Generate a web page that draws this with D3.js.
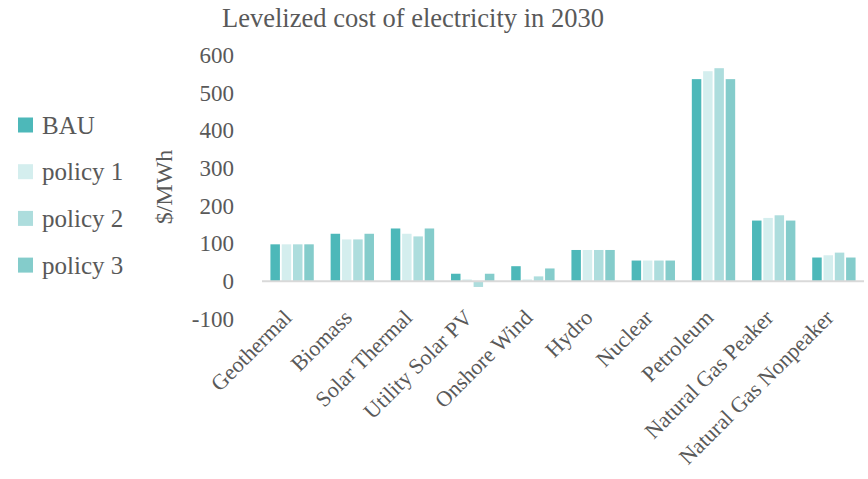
<!DOCTYPE html>
<html>
<head>
<meta charset="utf-8">
<script src="https://cdn.jsdelivr.net/npm/d3@7"></script>
<style>
  html, body { margin: 0; padding: 0; background: #fff; }
  svg { display: block; font-family: "Liberation Serif", "Times New Roman", serif; }
</style>
</head>
<body>
<svg id="chart" width="868" height="479"></svg>
<script>
// Levelized cost of electricity by technology in 2030 ($/MWh), four scenarios
const categories = ["Geothermal", "Biomass", "Solar Thermal", "Utility Solar PV", "Onshore Wind",
  "Hydro", "Nuclear", "Petroleum", "Natural Gas Peaker", "Natural Gas Nonpeaker"];
const seriesNames = ["BAU", "policy 1", "policy 2", "policy 3"];
const bau     = [98, 126, 140, 20, 40, 83, 55, 536, 161, 63];
const policy1 = [98, 111, 126, 5, 5, 83, 55, 557, 168, 69];
const policy2 = [98, 111, 119, -15, 13, 83, 55, 565, 175, 76];
const policy3 = [98, 126, 140, 20, 34, 83, 55, 536, 161, 63];
const yTicks = [-100, 0, 100, 200, 300, 400, 500, 600];
const colors = ["#4DB8B9", "#D4EEEE", "#ADDDDD", "#84CCCB"];

const seriesValues = [bau, policy1, policy2, policy3];
const textColor = "#595959";

const svg = d3.select("#chart");

const x0 = d3.scaleBand()
  .domain(categories)
  .range([262, 864])
  .paddingInner(0.28)
  .paddingOuter(0.14);

const x1 = d3.scaleBand()
  .domain(seriesNames)
  .range([0, x0.bandwidth()])
  .paddingInner(0.16);

const y = d3.scaleLinear().domain([-100, 600]).range([319, 55]);

// Title
svg.append("text")
  .attr("x", 413)
  .attr("y", 27)
  .attr("text-anchor", "middle")
  .attr("fill", textColor)
  .style("font-size", "26.5px")
  .text("Levelized cost of electricity in 2030");

// Y axis tick labels (no axis line, no gridlines)
const yAxis = d3.axisLeft(y).tickValues(yTicks).tickSize(0).tickPadding(0)
  .tickFormat(d => String(d));
const yg = svg.append("g").attr("transform", "translate(234,0)").call(yAxis);
yg.select(".domain").remove();
yg.selectAll("text")
  .attr("fill", textColor)
  .style("font-family", "Liberation Serif, serif")
  .style("font-size", "23px");

// Y axis title
svg.append("text")
  .attr("transform", `translate(172,187) rotate(-90)`)
  .attr("text-anchor", "middle")
  .attr("fill", textColor)
  .style("font-size", "24px")
  .text("$/MWh");

// Bars
const groups = svg.append("g").selectAll("g")
  .data(categories)
  .join("g")
  .attr("transform", d => `translate(${x0(d)},0)`);

groups.selectAll("rect")
  .data((d, i) => seriesNames.map((s, k) => ({ s, v: seriesValues[k][i], k })))
  .join("rect")
  .attr("x", d => x1(d.s))
  .attr("width", x1.bandwidth())
  .attr("y", d => y(Math.max(0, d.v)))
  .attr("height", d => Math.abs(y(d.v) - y(0)))
  .attr("fill", d => colors[d.k]);

// Zero line
svg.append("line")
  .attr("x1", 262).attr("x2", 864)
  .attr("y1", y(0)).attr("y2", y(0))
  .attr("stroke", "#D9D9D9")
  .attr("stroke-width", 2);

// Category labels rotated -45°
svg.append("g").selectAll("text")
  .data(categories)
  .join("text")
  .attr("transform", d => `translate(${x0(d) + x0.bandwidth() / 2 + 1},319) rotate(-45)`)
  .attr("text-anchor", "end")
  .attr("fill", textColor)
  .style("font-size", "22px")
  .text(d => d);

// Legend
const legend = svg.append("g").selectAll("g")
  .data(seriesNames)
  .join("g")
  .attr("transform", (d, i) => `translate(18,${125 + i * 46.7})`);
legend.append("rect")
  .attr("x", 0).attr("y", -7.5)
  .attr("width", 15).attr("height", 15)
  .attr("fill", (d, i) => colors[i]);
legend.append("text")
  .attr("x", 24).attr("y", 0)
  .attr("dy", "0.35em")
  .attr("fill", textColor)
  .style("font-size", "25px")
  .text(d => d);
</script>
</body>
</html>
